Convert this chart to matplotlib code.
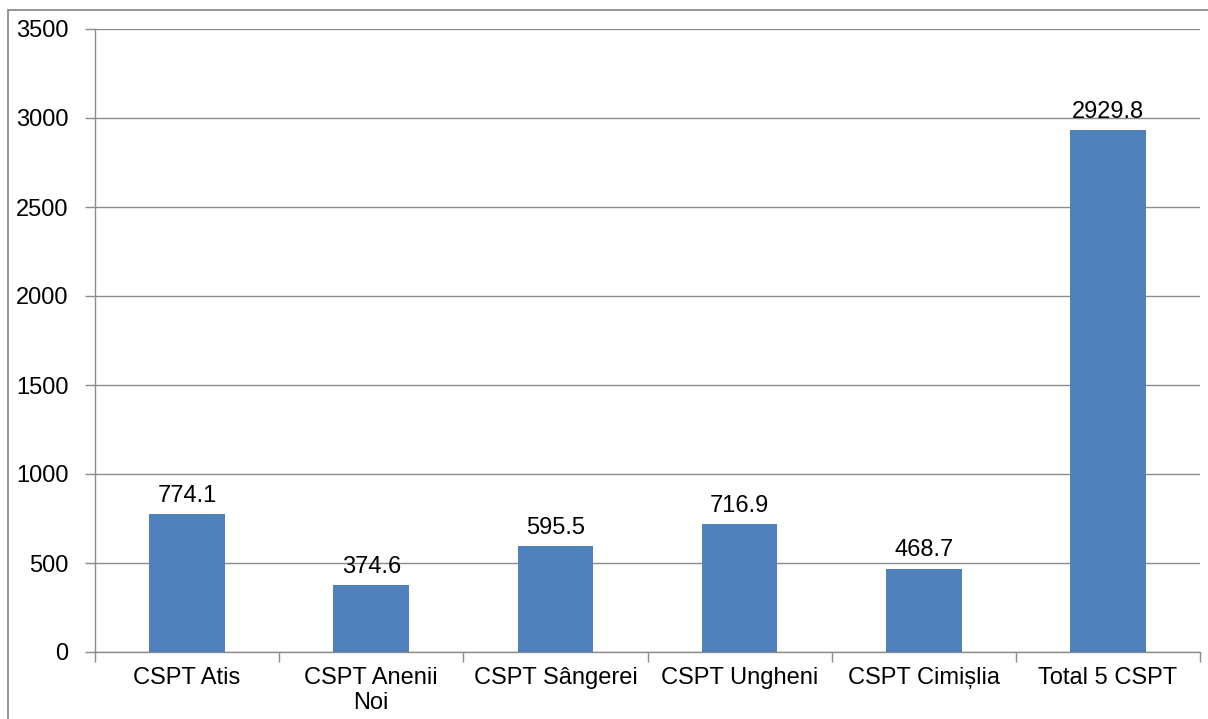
import matplotlib
matplotlib.use("Agg")
from matplotlib import pyplot as plt
from matplotlib.patches import Rectangle
import numpy as np

categories = ["CSPT Atis", "CSPT Anenii\nNoi", "CSPT Sângerei", "CSPT Ungheni",
              "CSPT Cimișlia", "Total 5 CSPT"]
values = [774.1, 374.6, 595.5, 716.9, 468.7, 2929.8]
yticks = [0, 500, 1000, 1500, 2000, 2500, 3000, 3500]

plt.rcParams['font.family'] = ['Liberation Sans', 'DejaVu Sans']
grey = '#8c8c8c'
fs = 17

fig = plt.figure(figsize=(12.08, 7.19), dpi=100)
ax = fig.add_axes([95 / 1208, 1 - 652 / 719, 1105 / 1208, 623 / 719])

# outer chart frame
fig.patches.append(Rectangle((8 / 1208, -0.1), 1.2, 1.1 - 10 / 719,
                             transform=fig.transFigure, fill=False,
                             edgecolor=grey, linewidth=1.3))

x = np.arange(len(categories))
bars = ax.bar(x, values, width=0.41, color='#4F81BD', zorder=3)
for b, v in zip(bars, values):
    ax.text(b.get_x() + b.get_width() / 2, v + 40, f"{v:.1f}",
            ha='center', va='bottom', fontsize=fs, color='black')

ax.set_xlim(-0.5, len(categories) - 0.5)
ax.set_ylim(0, 3500)
ax.set_yticks(yticks)
ax.set_yticklabels([str(t) for t in yticks], fontsize=fs)
ax.yaxis.grid(True, color=grey, linewidth=1.0, zorder=0)

ax.set_xticks(x)
ax.set_xticklabels(categories, fontsize=fs, linespacing=1.15)
ax.set_xticks(np.arange(len(categories) + 1) - 0.5, minor=True)
ax.tick_params(axis='x', which='major', length=0, pad=11)
ax.tick_params(axis='x', which='minor', length=7, color=grey, width=1.0)
ax.tick_params(axis='y', length=7, color=grey, width=1.0, pad=12)

for s in ['top', 'right']:
    ax.spines[s].set_visible(False)
for s in ['left', 'bottom']:
    ax.spines[s].set_color(grey)
    ax.spines[s].set_linewidth(1.0)

fig.savefig('out.png', dpi=100)
